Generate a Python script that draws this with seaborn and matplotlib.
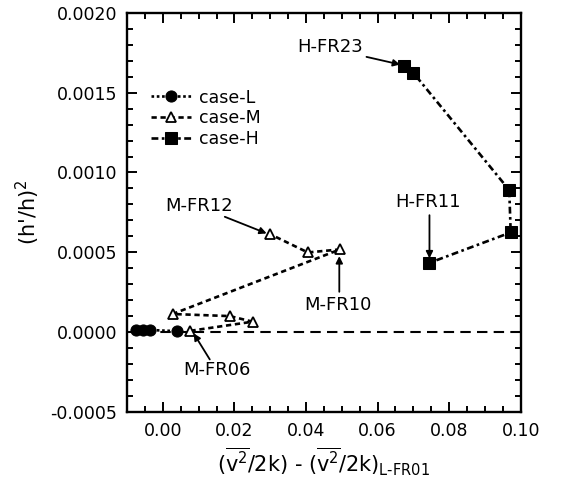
import numpy as np
import pandas as pd
import matplotlib
matplotlib.use("Agg")
import matplotlib.pyplot as plt
import seaborn as sns

# ---- data ----
L_x = [-0.0076, -0.0055, -0.0035, 0.0038]
L_y = [0.000015, 0.000015, 0.000015, 0.000008]

M_x = [0.0077, 0.0251, 0.0187, 0.0027, 0.0495, 0.0405, 0.0299]
M_y = [0.000010, 0.000067, 0.000102, 0.000115, 0.000519, 0.000500, 0.000615]

H_x = [0.0674, 0.0700, 0.0968, 0.0972, 0.0745]
H_y = [0.001669, 0.001623, 0.000890, 0.000625, 0.000435]

series_names = ["case-L", "case-M", "case-H"]

labels = ["H-FR23", "M-FR12", "M-FR10", "H-FR11", "M-FR06"]
label_xy = [(0.0467, 0.001785), (0.0101, 0.000790), (0.0490, 0.000171),
            (0.0742, 0.000817), (0.0150, -0.000235)]
arrow_tail = [(0.0569, 0.001723), (0.0173, 0.000723), (0.0493, 0.000254),
              (0.0745, 0.000733), (0.0131, -0.000169)]
arrow_head = [(0.0663, 0.001675), (0.0290, 0.000619), (0.0493, 0.000477),
              (0.0745, 0.000463), (0.0086, -0.000006)]

xticks = [0.00, 0.02, 0.04, 0.06, 0.08, 0.10]
yticks = [-0.0005, 0.0000, 0.0005, 0.0010, 0.0015, 0.0020]

# ---- style ----
sns.set_style("ticks")
plt.rcParams['font.family'] = ['DejaVu Sans']
plt.rcParams['mathtext.default'] = 'regular'
for k in ['text.color', 'axes.labelcolor', 'xtick.color', 'ytick.color', 'axes.edgecolor']:
    plt.rcParams[k] = 'black'

fig = plt.figure(figsize=(5.65, 4.84), dpi=100)
ax = fig.add_axes([0.225, 0.148, 0.6966, 0.826])

ax.axhline(0, color='black', lw=1.5, ls=(0, (5, 3)), zorder=1)

dfL = pd.DataFrame({"x": L_x, "y": L_y})
dfM = pd.DataFrame({"x": M_x, "y": M_y})
dfH = pd.DataFrame({"x": H_x, "y": H_y})

sns.lineplot(data=dfL, x="x", y="y", sort=False, ax=ax, color='black',
             marker='o', markersize=8, markerfacecolor='black', markeredgecolor='black',
             linestyle=(0, (1, 1)), lw=1.9, label=series_names[0], zorder=3)
sns.lineplot(data=dfM, x="x", y="y", sort=False, ax=ax, color='black',
             marker='^', markersize=7.5, markerfacecolor='white', markeredgecolor='black',
             markeredgewidth=1.3, linestyle=(0, (2.0, 1.4)), lw=1.9,
             label=series_names[1], zorder=3)
sns.lineplot(data=dfH, x="x", y="y", sort=False, ax=ax, color='black',
             marker='s', markersize=8, markerfacecolor='black', markeredgecolor='black',
             linestyle=(0, (2.6, 1.3, 1, 1.3)), lw=1.9, label=series_names[2], zorder=3)

for lab, (tx, ty), tail, head in zip(labels, label_xy, arrow_tail, arrow_head):
    ax.text(tx, ty, lab, ha='center', va='center', fontsize=13)
    ax.annotate('', xy=head, xytext=tail,
                arrowprops=dict(arrowstyle='-|>', color='black', lw=1.3,
                                mutation_scale=10, shrinkA=0, shrinkB=0))

ax.set_xlim(-0.01, 0.10)
ax.set_ylim(-0.0005, 0.0020)
ax.set_xticks(xticks)
ax.set_yticks(yticks)
ax.set_xticklabels([f"{v:.2f}" for v in xticks])
ax.set_yticklabels([f"{v:.4f}".replace("-0.0000", "0.0000") for v in yticks])
ax.xaxis.set_minor_locator(matplotlib.ticker.MultipleLocator(0.005))
ax.yaxis.set_minor_locator(matplotlib.ticker.MultipleLocator(0.0001))
ax.tick_params(which='both', direction='in', top=True, right=True, width=1.4,
               labelsize=12.5, pad=7)
ax.tick_params(which='major', length=7)
ax.tick_params(which='minor', length=4)
for s in ax.spines.values():
    s.set_linewidth(1.7)

ax.set_xlabel("($\\overline{v^2}$/2k) - ($\\overline{v^2}$/2k)$_{L\u2010FR01}$",
              fontsize=15, labelpad=4)
ax.set_ylabel("(h'/h)$^2$", fontsize=15, labelpad=6)

ax.legend(loc='upper left', bbox_to_anchor=(0.06, 0.81), frameon=False,
          borderpad=0, borderaxespad=0, handlelength=2.3, handletextpad=0.5,
          labelspacing=0.15, fontsize=12.5)

fig.savefig("out.png", dpi=100)
